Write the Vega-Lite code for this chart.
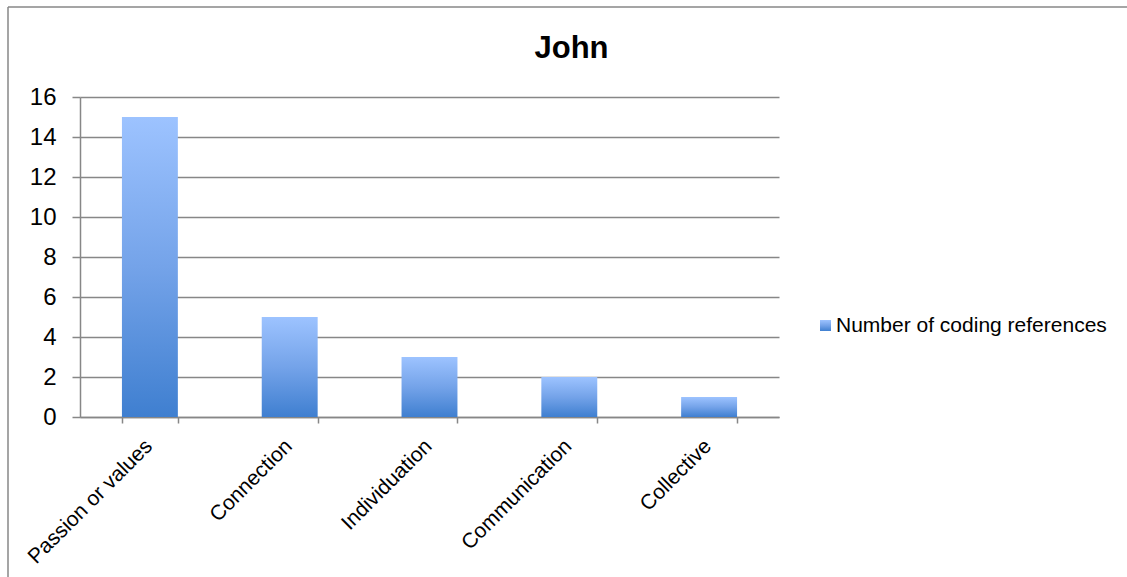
{
  "$schema": "https://vega.github.io/schema/vega-lite/v6.json",
  "width": 699,
  "height": 320,
  "autosize": {"type": "none"},
  "padding": {"left": 80, "top": 97, "right": 348, "bottom": 160},
  "background": "white",
  "title": {
    "text": "John",
    "font": "Liberation Sans",
    "fontSize": 31,
    "fontWeight": "bold",
    "color": "#000000",
    "anchor": "middle",
    "baseline": "alphabetic",
    "dx": 142,
    "offset": -83
  },
  "config": {
    "view": {"stroke": null},
    "font": "Liberation Sans"
  },
  "layer": [
    {
      "data": {
        "values": [
          {"category": "Passion or values", "references": 15, "series": "Number of coding references"},
          {"category": "Connection", "references": 5, "series": "Number of coding references"},
          {"category": "Individuation", "references": 3, "series": "Number of coding references"},
          {"category": "Communication", "references": 2, "series": "Number of coding references"},
          {"category": "Collective", "references": 1, "series": "Number of coding references"}
        ]
      },
      "mark": {"type": "bar"},
      "encoding": {
        "x": {
          "field": "category",
          "type": "nominal",
          "sort": null,
          "scale": {"paddingInner": 0.6, "paddingOuter": 0.3},
          "axis": {
            "title": null,
            "labelAngle": -45,
            "labelFont": "Liberation Sans",
            "labelFontSize": 21,
            "labelColor": "#000000",
            "labelPadding": 12,
            "labelOffset": -9,
            "tickBand": "extent",
            "tickSize": 6,
            "tickColor": "#878787",
            "domainColor": "#878787",
            "domainWidth": 1.5,
            "tickWidth": 1.5,
            "grid": false
          }
        },
        "y": {
          "field": "references",
          "type": "quantitative",
          "scale": {"domain": [0, 16]},
          "axis": {
            "title": null,
            "values": [0, 2, 4, 6, 8, 10, 12, 14, 16],
            "labelFont": "Liberation Sans",
            "labelFontSize": 24,
            "labelColor": "#000000",
            "labelPadding": 16,
            "tickSize": 8,
            "tickColor": "#878787",
            "tickWidth": 1.5,
            "domainColor": "#878787",
            "domainWidth": 1.5,
            "grid": true,
            "gridColor": "#878787",
            "gridWidth": 1.5
          }
        },
        "fill": {
          "value": {
            "gradient": "linear",
            "x1": 0, "y1": 0, "x2": 0, "y2": 1,
            "stops": [
              {"offset": 0, "color": "#9dc3ff"},
              {"offset": 0.5, "color": "#74a3e9"},
              {"offset": 1, "color": "#3f7fd0"}
            ]
          }
        },
        "opacity": {
          "field": "series",
          "type": "nominal",
          "scale": {"range": [1]},
          "legend": {
            "title": null,
            "orient": "none",
            "legendX": 735,
            "legendY": 218,
            "padding": 0,
            "symbolType": "square",
            "symbolSize": 121,
            "symbolStrokeWidth": 0,
            "symbolFillColor": "#74a3e9",
            "labelFont": "Liberation Sans",
            "labelFontSize": 21,
            "labelColor": "#000000",
            "labelOffset": 0,
            "labelLimit": 400,
            "encode": {
              "symbols": {
                "update": {
                  "fill": {
                    "value": {
                      "gradient": "linear",
                      "x1": 0, "y1": 0, "x2": 0, "y2": 1,
                      "stops": [
                        {"offset": 0, "color": "#9dc3ff"},
                        {"offset": 1, "color": "#3f7fd0"}
                      ]
                    }
                  },
                  "opacity": {"value": 1}
                }
              }
            }
          }
        }
      }
    },
    {
      "data": {"values": [{"edge": "left"}]},
      "mark": {"type": "rule", "color": "#878787", "strokeWidth": 1.5},
      "encoding": {
        "x": {"value": -72},
        "y": {"value": -90},
        "y2": {"value": 480}
      }
    },
    {
      "data": {"values": [{"edge": "top"}]},
      "mark": {"type": "rule", "color": "#878787", "strokeWidth": 1.5},
      "encoding": {
        "x": {"value": -72},
        "x2": {"value": 1047},
        "y": {"value": -90}
      }
    }
  ]
}
